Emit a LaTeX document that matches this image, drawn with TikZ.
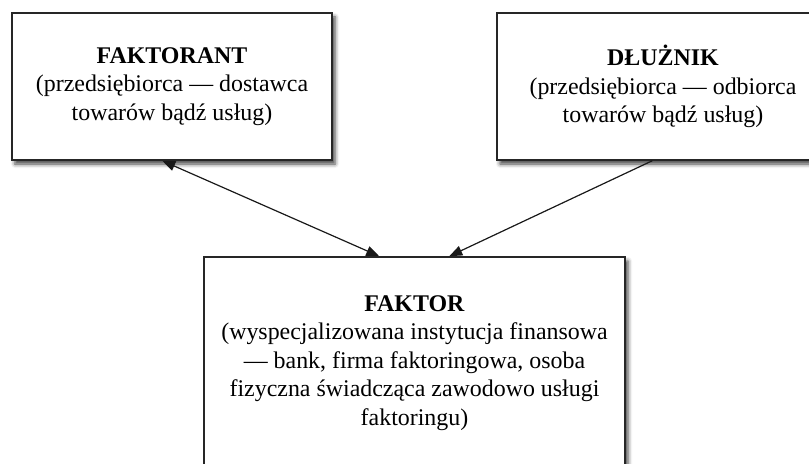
\documentclass[tikz,border=0pt]{standalone}
\usepackage{fontspec}
\setmainfont{Liberation Serif}
\usetikzlibrary{shadows.blur,arrows.meta}
\tikzset{
  box/.style={draw=black!85, line width=1.5bp, fill=white, inner sep=0pt,
    align=center, font=\fontsize{24}{28.7}\selectfont,
    blur shadow={shadow xshift=3bp, shadow yshift=-4bp, shadow blur radius=4bp, shadow opacity=75}},
  conn/.style={line width=1.2bp, black!90},
  tip/.style={-{Triangle[length=13bp,width=10bp]}},
}
\begin{document}
\begin{tikzpicture}[x=1bp,y=-1bp]
\useasboundingbox (0,0) rectangle (809,464);
\clip (0,0) rectangle (809,464);
\node[box, minimum width=320bp, minimum height=147bp] (L) at (172,86.5)
  {\textbf{FAKTORANT}\\(przedsiębiorca — dostawca\\towarów bądź usług)};
\node[box, minimum width=332bp, minimum height=147bp] (R) at (663,86.5)
  {\textbf{DŁUŻNIK}\\(przedsiębiorca — odbiorca\\towarów bądź usług)};
\node[box, minimum width=421bp, minimum height=212bp] (B) at (414.5,363)
  {\textbf{FAKTOR}\\(wyspecjalizowana instytucja finansowa\\— bank, firma faktoringowa, osoba\\fizyczna świadcząca zawodowo usługi\\faktoringu)};
\draw[conn, {Triangle[length=13bp,width=10bp]}-{Triangle[length=13bp,width=10bp]}]
  ([xshift=151bp]L.south west) -- ([xshift=176bp]B.north west);
\draw[conn, tip] ([xshift=156bp]R.south west) -- ([xshift=246bp]B.north west);
\end{tikzpicture}
\end{document}
